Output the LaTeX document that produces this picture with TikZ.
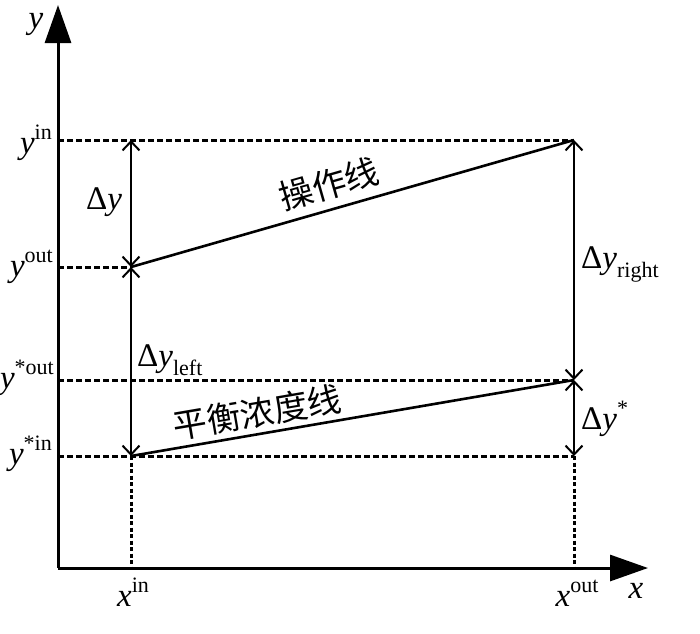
\documentclass[tikz,border=0pt]{standalone}
\usepackage{fontspec}
\setmainfont{Liberation Serif}
\newfontfamily\cjk{Noto Sans CJK SC}
\usetikzlibrary{arrows.meta}
\newcommand{\SupL}[2]{\textit{#1}\raisebox{0.4em}{\fontsize{22}{22}\selectfont #2}}
\newcommand{\SubL}[1]{Δ\textit{y}\raisebox{-0.28em}{\fontsize{22}{22}\selectfont #1}}
\begin{document}
\begin{tikzpicture}[x=1pt,y=-1pt,
  axis/.style={line width=3pt,-{Triangle[length=38pt,width=26pt]}},
  guide/.style={line width=3pt,dash pattern=on 6pt off 3pt},
  vguide/.style={line width=3pt,dash pattern=on 4pt off 2.5pt},
  curve/.style={line width=2.6pt},
  dim/.style={line width=2pt,{Straight Barb[length=9pt,width=17pt,line width=2pt]}-{Straight Barb[length=9pt,width=17pt,line width=2pt]}},
  lab/.style={font=\fontsize{33}{33}\selectfont,inner sep=0pt},
  cn/.style={font=\cjk\fontsize{34}{34}\selectfont,inner sep=0pt}]
\useasboundingbox (0,0) rectangle (700,633);
% coordinates
\coordinate (O) at (58,568);
\coordinate (Ytip) at (58,5);
\coordinate (Xtip) at (648,568);
\coordinate (Yin) at (58,140);
\coordinate (Yout) at (58,267);
\coordinate (Yso) at (58,380);
\coordinate (Ysi) at (58,456);
\coordinate (Lin) at (131,140);
\coordinate (Lout) at (131,267);
\coordinate (Lsi) at (131,456);
\coordinate (Lx) at (131,568);
\coordinate (Rin) at (574,140);
\coordinate (Rso) at (574,380);
\coordinate (Rsi) at (574,456);
\coordinate (Rx) at (574,568);
% guides
\draw[guide] (Yin) -- (Rin);
\draw[guide] (Yout) -- (Lout);
\draw[guide] (Yso) -- (Rso);
\draw[guide] (Ysi) -- (Rsi);
\draw[vguide] (Lsi) -- (Lx);
\draw[vguide] (Rsi) -- (Rx);
% axes
\draw[axis] (O) -- (Ytip);
\draw[axis] (O) -- (Xtip);
% lines
\draw[curve] (Lout) -- (Rin);
\draw[curve] (Lsi) -- (Rso);
% dimension arrows
\draw[dim] (Lout) -- (Lin);
\draw[dim] (Lout) -- (Lsi);
\draw[dim] (Rso) -- (Rin);
\draw[dim] (Rso) -- (Rsi);
% labels
\node[lab,anchor=center] (ly) at (36,24) {\textit{y}};
\node[lab,anchor=base east] (lyin) at (52,153) {\SupL{y}{in}};
\node[lab,anchor=base east] (lyout) at (53,276) {\SupL{y}{out}};
\node[lab,anchor=base east] (lyso) at (54,388) {\SupL{y}{*out}};
\node[lab,anchor=base east] (lysi) at (52,464) {\SupL{y}{*in}};
\node[lab,anchor=base west] (ldy) at (86,209) {Δ\textit{y}};
\node[lab,anchor=base west] (ldyl) at (137,366) {\SubL{left}};
\node[lab,anchor=base west] (ldyr) at (581,268) {\SubL{right}};
\node[lab,anchor=base west] (ldys) at (581,429) {Δ\textit{y}\raisebox{0.4em}{\fontsize{22}{22}\selectfont *}};
\node[lab,anchor=base] (lxin) at (133,606) {\SupL{x}{in}};
\node[lab,anchor=base] (lxout) at (577,606) {\SupL{x}{out}};
\node[lab,anchor=base] (lx) at (636,598) {\textit{x}};
\node[cn,rotate=16] (op) at (329,184) {操作线};
\node[cn,rotate=9.7] (eq) at (257.5,412.5) {平衡浓度线};
\end{tikzpicture}
\end{document}
